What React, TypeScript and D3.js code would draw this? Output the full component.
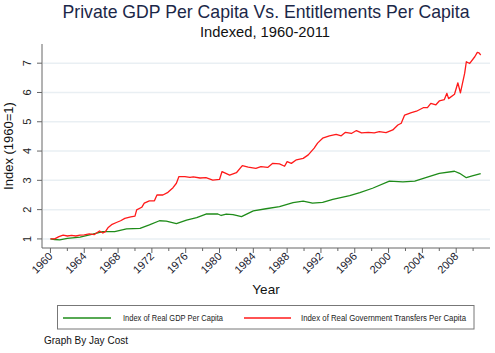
import { useMemo } from 'react';
import * as d3 from 'd3';

// [year, index] readings, 1960 = 1
const gdpSeries: [number, number][] = [
  [1960.0, 1.0], [1960.5, 0.98], [1961.1, 0.97], [1962.0, 1.02], [1963.5, 1.06],
  [1965.0, 1.16], [1966.2, 1.25], [1967.6, 1.25], [1969.0, 1.34], [1970.6, 1.36],
  [1971.7, 1.48], [1972.9, 1.62], [1973.7, 1.61], [1974.9, 1.52], [1976.1, 1.64],
  [1977.3, 1.73], [1978.4, 1.85], [1979.8, 1.85], [1980.2, 1.8], [1980.8, 1.85],
  [1981.6, 1.83], [1982.6, 1.76], [1984.0, 1.96], [1985.5, 2.03], [1987.1, 2.1],
  [1988.7, 2.24], [1989.9, 2.29], [1990.6, 2.25], [1991.0, 2.22], [1992.2, 2.25],
  [1993.4, 2.35], [1995.4, 2.48], [1996.6, 2.58], [1998.1, 2.73], [2000.1, 2.97],
  [2001.7, 2.95], [2003.1, 2.97], [2004.4, 3.09], [2006.0, 3.24], [2007.8, 3.31],
  [2008.4, 3.24], [2009.2, 3.09], [2009.9, 3.15], [2010.9, 3.23],
];

const transferSeries: [number, number][] = [
  [1960.0, 1.0], [1960.5, 1.0], [1961.0, 1.08], [1961.5, 1.13], [1962.0, 1.1],
  [1962.5, 1.12], [1963.0, 1.1], [1963.5, 1.13], [1964.0, 1.14], [1964.6, 1.17],
  [1965.2, 1.15], [1965.8, 1.27], [1966.2, 1.2], [1966.5, 1.25], [1966.8, 1.38],
  [1967.3, 1.5], [1967.8, 1.56], [1968.3, 1.62], [1968.8, 1.7], [1969.5, 1.75],
  [1970.0, 1.78], [1970.2, 1.99], [1970.8, 2.08], [1971.1, 2.22], [1971.7, 2.3],
  [1972.3, 2.3], [1972.6, 2.5], [1973.3, 2.5], [1973.9, 2.59], [1974.5, 2.75],
  [1974.9, 2.9], [1975.2, 3.13], [1975.9, 3.13], [1976.5, 3.1], [1976.9, 3.12],
  [1977.7, 3.08], [1978.4, 3.09], [1979.2, 3.01], [1980.0, 3.03], [1980.3, 3.3],
  [1981.2, 3.18], [1982.0, 3.26], [1982.7, 3.5], [1983.4, 3.45], [1984.3, 3.41],
  [1984.9, 3.47], [1985.7, 3.44], [1986.3, 3.58], [1987.1, 3.56], [1987.7, 3.48],
  [1988.0, 3.64], [1988.5, 3.58], [1989.1, 3.7], [1989.9, 3.75], [1990.5, 3.87],
  [1991.2, 4.1], [1991.6, 4.27], [1992.2, 4.44], [1993.0, 4.52], [1993.8, 4.57],
  [1994.4, 4.52], [1994.9, 4.64], [1995.6, 4.6], [1996.2, 4.7], [1996.8, 4.62],
  [1997.6, 4.64], [1998.3, 4.62], [1998.9, 4.66], [1999.7, 4.63], [2000.5, 4.72],
  [2001.1, 4.89], [2001.5, 4.95], [2001.9, 5.23], [2002.7, 5.31], [2003.3, 5.36],
  [2004.1, 5.48], [2004.6, 5.48], [2005.0, 5.63], [2005.6, 5.58], [2006.0, 5.71],
  [2006.6, 5.76], [2006.9, 5.97], [2007.1, 5.79], [2007.8, 5.94], [2008.2, 6.33],
  [2008.5, 5.99], [2009.0, 6.65], [2009.2, 7.05], [2009.6, 6.99], [2010.2, 7.22],
  [2010.5, 7.37], [2010.7, 7.35], [2010.9, 7.28],
];

const yTicks = [1, 2, 3, 4, 5, 6, 7];
const xTicks = [1960, 1964, 1968, 1972, 1976, 1980, 1984, 1988, 1992, 1996, 2000, 2004, 2008];
const xMinorTicks = [1962, 1966, 1970, 1974, 1978, 1982, 1986, 1990, 1994, 1998, 2002, 2006, 2010];

const font = "'Liberation Sans', Arial, sans-serif";
const GREEN = '#1f8c1a';
const RED = '#ff1a1a';

export default function App() {
  const width = 495;
  const height = 353;
  const plot = { left: 42, right: 490, top: 44, bottom: 248 };

  const x = useMemo(() => d3.scaleLinear().domain([1959, 2012]).range([plot.left, plot.right]), []);
  const y = useMemo(() => d3.scaleLinear().domain([0.69, 7.655]).range([plot.bottom, plot.top]), []);

  const line = d3
    .line<[number, number]>()
    .x((d) => x(d[0]))
    .y((d) => y(d[1]));

  return (
    <svg
      width={width}
      height={height}
      style={{ position: 'absolute', left: 0, top: 0, background: '#fff', fontFamily: font }}
    >
      <text x={266} y={18} textAnchor="middle" fontSize={18.5} fill="#1b2748" textLength={407} lengthAdjust="spacingAndGlyphs">
        Private GDP Per Capita Vs. Entitlements Per Capita
      </text>
      <text x={265} y={37} textAnchor="middle" fontSize={14} fill="#111" textLength={130} lengthAdjust="spacingAndGlyphs">
        Indexed, 1960-2011
      </text>

      {/* Grid lines */}
      {yTicks.map((t) => (
        <line key={`g${t}`} x1={plot.left + 1} x2={plot.right} y1={y(t)} y2={y(t)} stroke="#e9eff3" strokeWidth={1.5} />
      ))}

      {/* Y axis */}
      <line x1={plot.left} x2={plot.left} y1={plot.top} y2={plot.bottom} stroke="#666" strokeWidth={1} />
      {yTicks.map((t) => (
        <g key={`yt${t}`}>
          <line x1={plot.left - 5} x2={plot.left} y1={y(t)} y2={y(t)} stroke="#666" />
          <text
            transform={`translate(${plot.left - 11},${y(t)}) rotate(-90)`}
            textAnchor="middle"
            fontSize={11}
            fill="#222"
          >
            {t}
          </text>
        </g>
      ))}
      <text transform={`translate(13,146) rotate(-90)`} textAnchor="middle" fontSize={13} fill="#111">
        Index (1960=1)
      </text>

      {/* X axis */}
      <line x1={plot.left} x2={plot.right} y1={plot.bottom} y2={plot.bottom} stroke="#666" strokeWidth={1} />
      {xTicks.map((t) => (
        <g key={`xt${t}`}>
          <line x1={x(t)} x2={x(t)} y1={plot.bottom} y2={plot.bottom + 5} stroke="#666" />
          <text
            transform={`translate(${x(t) + 3},${plot.bottom + 9}) rotate(-45)`}
            textAnchor="end"
            fontSize={11}
            fill="#1a1a2e"
          >
            {t}
          </text>
        </g>
      ))}
      {xMinorTicks.map((t) => (
        <line key={`xm${t}`} x1={x(t)} x2={x(t)} y1={plot.bottom} y2={plot.bottom + 3} stroke="#666" />
      ))}
      <text x={266} y={294} textAnchor="middle" fontSize={13.5} fill="#111">
        Year
      </text>

      {/* Series */}
      <path d={line(gdpSeries) ?? ''} fill="none" stroke={GREEN} strokeWidth={1.3} strokeLinejoin="round" />
      <path d={line(transferSeries) ?? ''} fill="none" stroke={RED} strokeWidth={1.3} strokeLinejoin="round" />

      {/* Legend */}
      <rect x={57.5} y={305.5} width={416.5} height={23.5} fill="#fff" stroke="#777" strokeWidth={1} />
      <line x1={63} x2={111} y1={318} y2={318} stroke={GREEN} strokeWidth={1.3} />
      <text x={123} y={321} fontSize={8.5} fill="#222" textLength={100} lengthAdjust="spacingAndGlyphs">
        Index of Real GDP Per Capita
      </text>
      <line x1={244} x2={291} y1={318} y2={318} stroke={RED} strokeWidth={1.3} />
      <text x={301} y={321} fontSize={8.5} fill="#222" textLength={165} lengthAdjust="spacingAndGlyphs">
        Index of Real Government Transfers Per Capita
      </text>

      <text x={44} y={344} fontSize={11} fill="#111" textLength={84} lengthAdjust="spacingAndGlyphs">
        Graph By Jay Cost
      </text>
    </svg>
  );
}
